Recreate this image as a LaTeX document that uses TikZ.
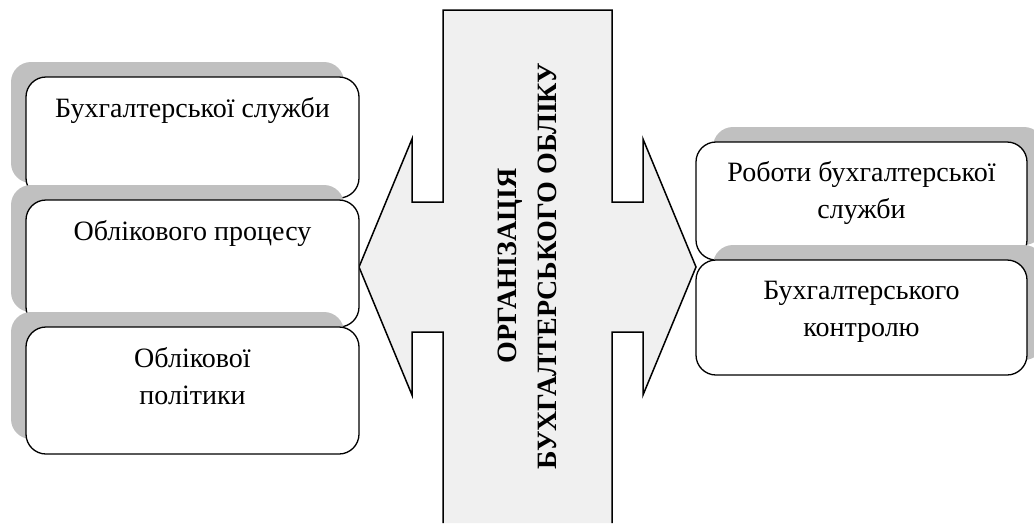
\documentclass[tikz,border=0pt]{standalone}
\usepackage{fontspec}
\setmainfont{Liberation Serif}
\usetikzlibrary{positioning,shadows}

\definecolor{sombra}{HTML}{C0C0C0}
\definecolor{flecha}{HTML}{F0F0F0}

\tikzset{
  caja/.style={draw, line width=1.3pt, rounded corners=20pt, fill=white,
    minimum width=333pt, inner sep=0pt},
  sombraizq/.style={drop shadow={shadow xshift=-15pt, shadow yshift=15pt,
    fill=sombra, opacity=1}},
  sombrader/.style={drop shadow={shadow xshift=17pt, shadow yshift=15pt,
    fill=sombra, opacity=1}},
  texto/.style={align=center, inner sep=0pt, font=\fontsize{28}{37}\selectfont},
}

\begin{document}
\begin{tikzpicture}[x=1pt, y=-1pt]
  \useasboundingbox (0,0) rectangle (1034,523);
  \def\bi{443}  % barra izquierda
  \def\bd{612}  % barra derecha
  \def\ni{412}
  \def\nd{643}

  % Flecha central
  \fill[flecha] (\bi,523) -- (\bi,332) -- (\ni,332) -- (\ni,395) -- (359,267)
    -- (\ni,139) -- (\ni,202) -- (\bi,202) -- (\bi,10) -- (\bd,10) -- (\bd,202)
    -- (\nd,202) -- (\nd,139) -- (696,267) -- (\nd,395) -- (\nd,332)
    -- (\bd,332) -- (\bd,523) -- cycle;
  \draw[line width=1.5pt] (\bi,523) -- (\bi,332) -- (\ni,332) -- (\ni,395) -- (359,267)
    -- (\ni,139) -- (\ni,202) -- (\bi,202) -- (\bi,10) -- (\bd,10) -- (\bd,202)
    -- (\nd,202) -- (\nd,139) -- (696,267) -- (\nd,395) -- (\nd,332)
    -- (\bd,332) -- (\bd,523);

  \node[rotate=90, align=center, inner sep=0pt,
    font=\fontsize{28}{40}\selectfont\bfseries] (org) at (527,266)
    {ОРГАНІЗАЦІЯ\\БУХГАЛТЕРСЬКОГО ОБЛІКУ};

  % Cajas izquierda
  \node[caja, sombraizq, minimum height=121pt] (servicio) at (192.5,137.5) {};
  \node[texto, below=21pt of servicio.north] (tservicio) {Бухгалтерської служби};
  \node[caja, sombraizq, minimum height=127pt] (proceso) at (192.5,263.5) {};
  \node[texto, below=21pt of proceso.north] (tproceso) {Облікового процесу};
  \node[caja, sombraizq, minimum height=127pt] (politica) at (192.5,390.5) {};
  \node[texto, below=21pt of politica.north] (tpolitica) {Облікової\\політики};

  % Cajas derecha
  \node[caja, sombrader, minimum width=331pt, minimum height=118pt] (trabajo) at (861.5,201) {};
  \node[texto, below=20pt of trabajo.north] (ttrabajo) {Роботи бухгалтерської\\служби};
  \node[caja, sombrader, minimum width=331pt, minimum height=115pt] (control) at (861.5,317.5) {};
  \node[texto, below=22pt of control.north] (tcontrol) {Бухгалтерського\\контролю};
\end{tikzpicture}
\end{document}
